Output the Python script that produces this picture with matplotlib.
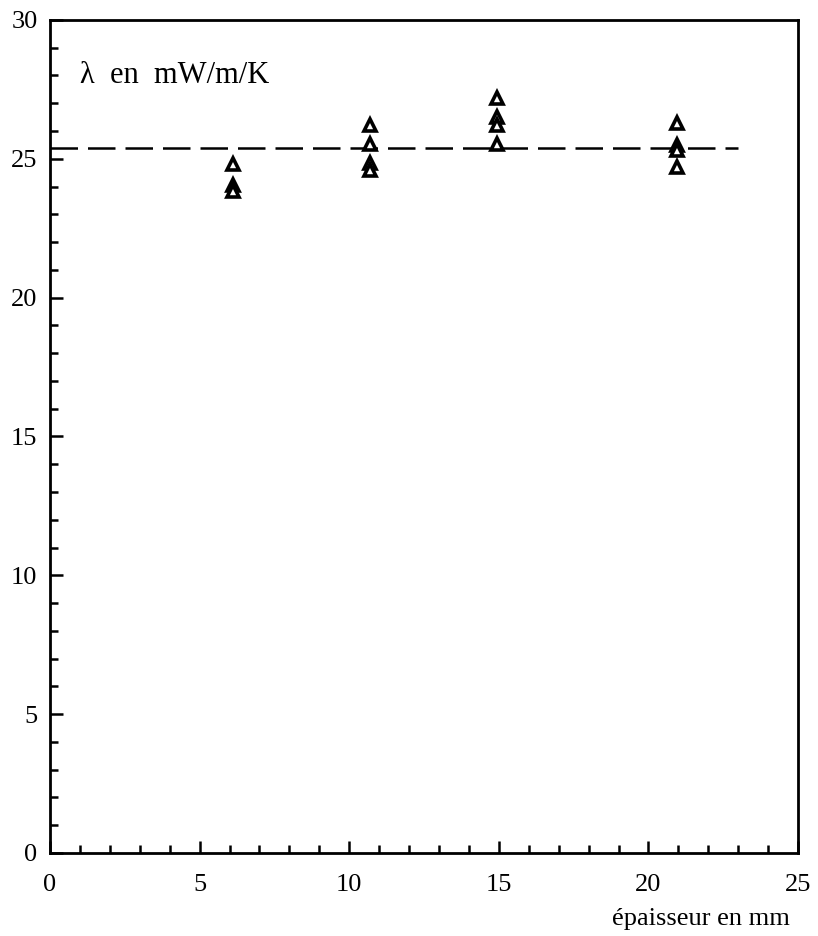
import matplotlib.pyplot as plt
from matplotlib.ticker import MultipleLocator

# épaisseur (mm) et conductivité (mW/m/K)
epaisseur = [6.1, 6.1, 6.1, 10.7, 10.7, 10.7, 10.7, 14.95, 14.95, 14.95, 14.95, 20.95, 20.95, 20.95, 20.95]
lambda_vals = [24.8, 24.05, 23.85, 26.2, 25.55, 24.85, 24.6, 27.2, 26.5, 26.2, 25.55, 26.3, 25.5, 25.3, 24.7]
moyenne = 25.4
x_moy = [0, 23]

plt.rcParams['font.family'] = 'Liberation Serif'

fig = plt.figure(figsize=(8.18, 9.36), dpi=100)
ax = fig.add_axes([0.0611, 0.0887, 0.9145, 0.89])

ax.plot(x_moy, [moyenne, moyenne], color='black', lw=1.8, dashes=(11, 4))
ax.plot(epaisseur, lambda_vals, linestyle='none', marker='^', ms=8.5,
        mfc='white', mec='black', mew=2.6)

ax.set_xlim(0, 25)
ax.set_ylim(0, 30)
ax.xaxis.set_major_locator(MultipleLocator(5))
ax.xaxis.set_minor_locator(MultipleLocator(1))
ax.yaxis.set_major_locator(MultipleLocator(5))
ax.yaxis.set_minor_locator(MultipleLocator(1))
ax.tick_params(which='both', direction='in', width=1.8, labelsize=19)
ax.tick_params(which='major', length=9)
ax.tick_params(which='minor', length=6)
ax.tick_params(axis='x', pad=15)
ax.tick_params(axis='y', pad=9)
for s in ax.spines.values():
    s.set_linewidth(2)

ax.text(1.0, 28.0, 'λ  en  mW/m/K', fontsize=22, va='center', ha='left')
fig.text(0.966, 0.012, 'épaisseur en mm', fontsize=19, ha='right', va='baseline')

plt.savefig('out.png', dpi=100)
